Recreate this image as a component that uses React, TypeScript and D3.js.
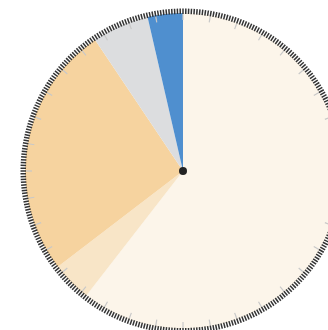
import React from "react";
import * as d3 from "d3";

const categories = ["A", "B", "C", "D", "E"];
const values = [60.5, 4.1, 26.0, 5.8, 3.6];
const colors = ["#fcf5ea", "#f8e5c7", "#f6d39f", "#dcdddf", "#4f8fcf"];
const minorTickCount = 360;
const majorTickStep = 10;

export default function App() {
  const W = 328, H = 330;
  const cx = 183, cy = 171;
  const R = 158;
  const pie = d3.pie<number>().sort(null).value((d) => d)(values);
  const arc = d3.arc<d3.PieArcDatum<number>>().innerRadius(0).outerRadius(R);
  const tickScale = d3.scaleLinear().domain([0, minorTickCount]).range([0, 2 * Math.PI]);
  const minor = d3.range(minorTickCount);
  const major = d3.range(0, minorTickCount, majorTickStep);
  const pt = (a: number, r: number) => [Math.sin(a) * r, -Math.cos(a) * r];
  return (
    <svg width={W} height={H} style={{ position: "absolute", left: 0, top: 0 }}>
      <g transform={`translate(${cx},${cy})`}>
        {pie.map((p, i) => (
          <path key={categories[i]} d={arc(p) || ""} fill={colors[i]} />
        ))}
        {major.map((t) => {
          const a = tickScale(t);
          const [x1, y1] = pt(a, 151);
          const [x2, y2] = pt(a, 157);
          return <line key={"M" + t} x1={x1} y1={y1} x2={x2} y2={y2} stroke="#c8c8c8" strokeWidth={1.2} />;
        })}
        {minor.map((t) => {
          const a = tickScale(t);
          const [x1, y1] = pt(a, 157);
          const [x2, y2] = pt(a, 162.5);
          return <line key={"m" + t} x1={x1} y1={y1} x2={x2} y2={y2} stroke="#333" strokeWidth={1.5} />;
        })}
        <circle r={4} fill="#222" />
      </g>
    </svg>
  );
}
